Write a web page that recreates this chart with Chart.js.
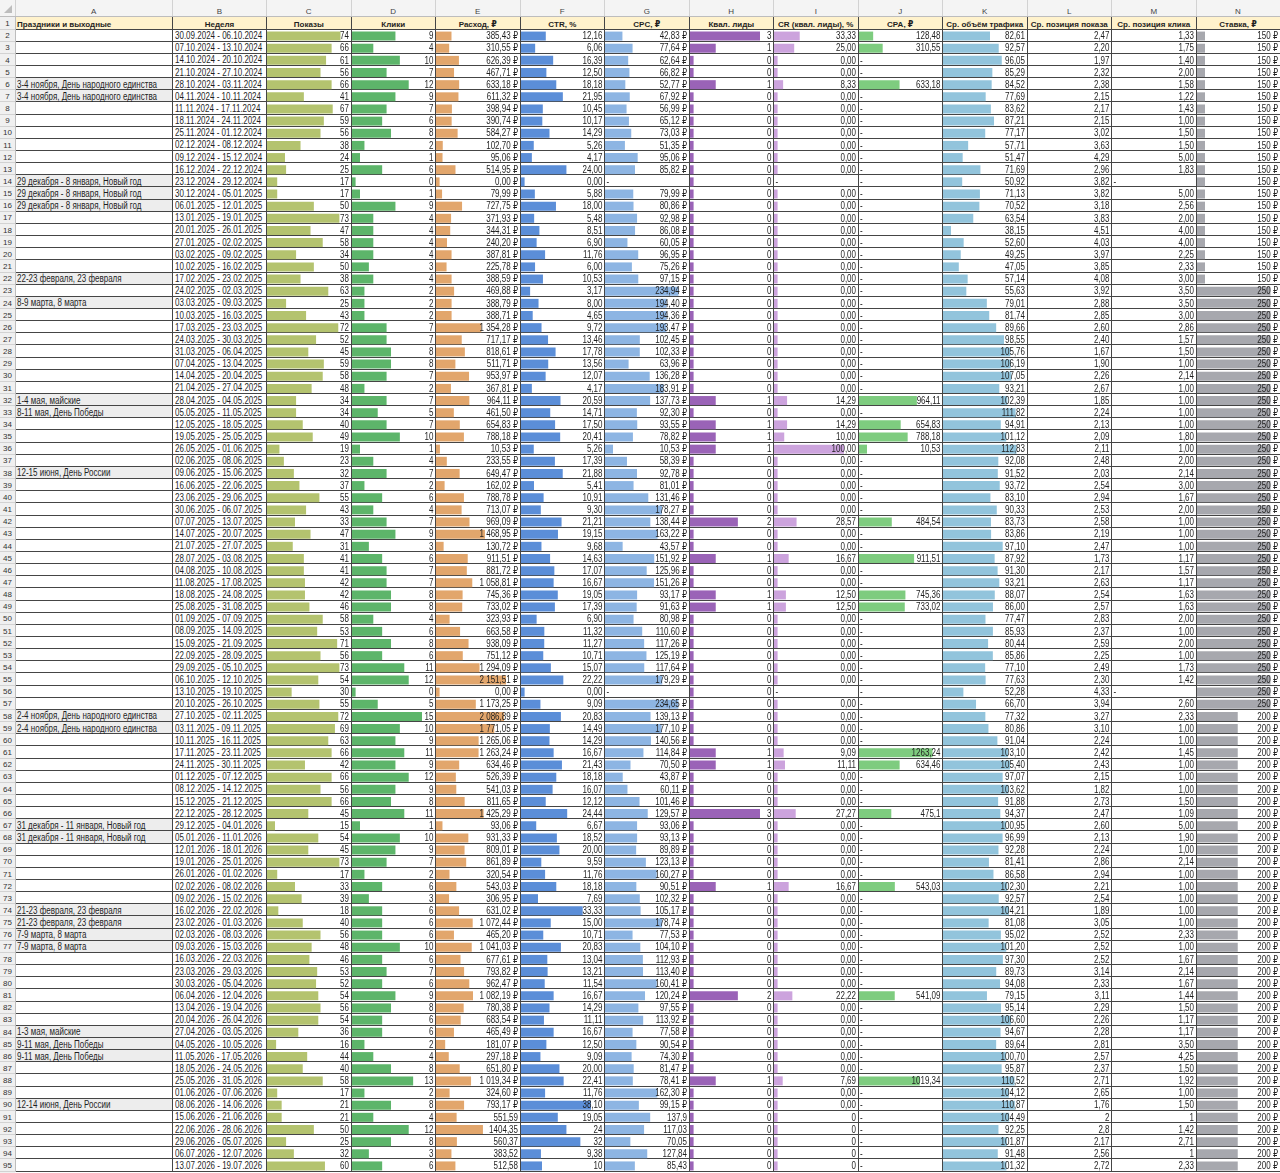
<!DOCTYPE html>
<html><head><meta charset="utf-8">
<script src="https://cdn.jsdelivr.net/npm/chart.js@4.4.1/dist/chart.umd.min.js"></script>
<style>
html,body{margin:0;padding:0;background:#fff;}
#sheet{position:relative;width:1280px;height:1173px;overflow:hidden;font-family:"Liberation Sans","DejaVu Sans",Arial,sans-serif;color:#1f1f1f;}
.r{position:absolute;}
.t{position:absolute;white-space:nowrap;}
.t span{display:inline-block;}
.cw{position:absolute;}
</style></head><body><div id="sheet"></div>
<script>
// ---------------- DATA (rows 2..95) ----------------
const colLetters = ['A','B','C','D','E','F','G','H','I','J','K','L','M','N'];
const headers = ['Праздники и выходные','Неделя','Показы','Клики','Расход, ₽','CTR, %','CPC, ₽','Квал. лиды','CR (квал. лиды), %','CPA, ₽','Ср. объём трафика','Ср. позиция показа','Ср. позиция клика','Ставка, ₽'];

const holidays = [
'','','','','3-4 ноября, День народного единства','3-4 ноября, День народного единства','','','','',
'','','29 декабря - 8 января, Новый год','29 декабря - 8 января, Новый год','29 декабря - 8 января, Новый год','','','','','',
'22-23 февраля, 23 февраля','','8-9 марта, 8 марта','','','','','','','',
'1-4 мая, майские','8-11 мая, День Победы','','','','','12-15 июня, День России','','','',
'','','','','','','','','','',
'','','','','','','2-4 ноября, День народного единства','2-4 ноября, День народного единства','','',
'','','','','','31 декабря - 11 января, Новый год','31 декабря - 11 января, Новый год','','','',
'','','21-23 февраля, 23 февраля','21-23 февраля, 23 февраля','7-9 марта, 8 марта','7-9 марта, 8 марта','','','','',
'','','1-3 мая, майские','9-11 мая, День Победы','9-11 мая, День Победы','','','','12-14 июня, День России','',
'','','',''
];

const weeks = [
'30.09.2024 - 06.10.2024','07.10.2024 - 13.10.2024','14.10.2024 - 20.10.2024','21.10.2024 - 27.10.2024','28.10.2024 - 03.11.2024',
'04.11.2024 - 10.11.2024','11.11.2024 - 17.11.2024','18.11.2024 - 24.11.2024','25.11.2024 - 01.12.2024','02.12.2024 - 08.12.2024',
'09.12.2024 - 15.12.2024','16.12.2024 - 22.12.2024','23.12.2024 - 29.12.2024','30.12.2024 - 05.01.2025','06.01.2025 - 12.01.2025',
'13.01.2025 - 19.01.2025','20.01.2025 - 26.01.2025','27.01.2025 - 02.02.2025','03.02.2025 - 09.02.2025','10.02.2025 - 16.02.2025',
'17.02.2025 - 23.02.2025','24.02.2025 - 02.03.2025','03.03.2025 - 09.03.2025','10.03.2025 - 16.03.2025','17.03.2025 - 23.03.2025',
'24.03.2025 - 30.03.2025','31.03.2025 - 06.04.2025','07.04.2025 - 13.04.2025','14.04.2025 - 20.04.2025','21.04.2025 - 27.04.2025',
'28.04.2025 - 04.05.2025','05.05.2025 - 11.05.2025','12.05.2025 - 18.05.2025','19.05.2025 - 25.05.2025','26.05.2025 - 01.06.2025',
'02.06.2025 - 08.06.2025','09.06.2025 - 15.06.2025','16.06.2025 - 22.06.2025','23.06.2025 - 29.06.2025','30.06.2025 - 06.07.2025',
'07.07.2025 - 13.07.2025','14.07.2025 - 20.07.2025','21.07.2025 - 27.07.2025','28.07.2025 - 03.08.2025','04.08.2025 - 10.08.2025',
'11.08.2025 - 17.08.2025','18.08.2025 - 24.08.2025','25.08.2025 - 31.08.2025','01.09.2025 - 07.09.2025','08.09.2025 - 14.09.2025',
'15.09.2025 - 21.09.2025','22.09.2025 - 28.09.2025','29.09.2025 - 05.10.2025','06.10.2025 - 12.10.2025','13.10.2025 - 19.10.2025',
'20.10.2025 - 26.10.2025','27.10.2025 - 02.11.2025','03.11.2025 - 09.11.2025','10.11.2025 - 16.11.2025','17.11.2025 - 23.11.2025',
'24.11.2025 - 30.11.2025','01.12.2025 - 07.12.2025','08.12.2025 - 14.12.2025','15.12.2025 - 21.12.2025','22.12.2025 - 28.12.2025',
'29.12.2025 - 04.01.2026','05.01.2026 - 11.01.2026','12.01.2026 - 18.01.2026','19.01.2026 - 25.01.2026','26.01.2026 - 01.02.2026',
'02.02.2026 - 08.02.2026','09.02.2026 - 15.02.2026','16.02.2026 - 22.02.2026','23.02.2026 - 01.03.2026','02.03.2026 - 08.03.2026',
'09.03.2026 - 15.03.2026','16.03.2026 - 22.03.2026','23.03.2026 - 29.03.2026','30.03.2026 - 05.04.2026','06.04.2026 - 12.04.2026',
'13.04.2026 - 19.04.2026','20.04.2026 - 26.04.2026','27.04.2026 - 03.05.2026','04.05.2026 - 10.05.2026','11.05.2026 - 17.05.2026',
'18.05.2026 - 24.05.2026','25.05.2026 - 31.05.2026','01.06.2026 - 07.06.2026','08.06.2026 - 14.06.2026','15.06.2026 - 21.06.2026',
'22.06.2026 - 28.06.2026','29.06.2026 - 05.07.2026','06.07.2026 - 12.07.2026','13.07.2026 - 19.07.2026'
];

const shows = [
74,66,61,56,66,41,67,59,56,38,
24,25,17,17,50,73,47,58,34,50,
38,63,25,43,72,52,45,59,58,48,
34,34,40,49,19,23,32,37,55,43,
33,47,31,41,41,42,42,46,58,53,
71,56,73,54,30,55,72,69,63,66,
42,66,56,66,45,15,54,45,73,17,
33,39,18,40,56,48,46,53,52,54,
56,54,36,16,44,40,58,17,21,21,
50,25,32,60];

const clicks = [
9,4,10,7,12,9,7,6,8,2,
1,6,0,1,9,4,4,4,4,3,
4,2,2,2,7,7,8,8,7,2,
7,5,7,10,1,4,7,2,6,4,
7,9,3,6,7,7,8,8,4,6,
8,6,11,12,0,5,15,10,9,11,
9,12,9,8,11,1,10,9,7,2,
6,3,6,6,6,10,6,7,6,9,
8,6,6,2,4,8,13,2,8,4,
12,8,3,6];

const spend = [
385.43,310.55,626.39,467.71,633.18,611.32,398.94,390.74,584.27,102.70,
95.06,514.95,0,79.99,727.75,371.93,344.31,240.20,387.81,225.78,
388.59,469.88,388.79,388.71,1354.28,717.17,818.61,511.71,953.97,367.81,
964.11,461.50,654.83,788.18,10.53,233.55,649.47,162.02,788.78,713.07,
969.09,1468.95,130.72,911.51,881.72,1058.81,745.36,733.02,323.93,663.58,
938.09,751.12,1294.09,2151.51,0,1173.25,2086.89,1771.05,1265.06,1263.24,
634.46,526.39,541.03,811.65,1425.29,93.06,931.33,809.01,861.89,320.54,
543.03,306.95,631.02,1072.44,465.20,1041.03,677.61,793.82,962.47,1082.19,
780.38,683.54,465.49,181.07,297.18,651.80,1019.34,324.60,793.17,551.59,
1404.35,560.37,383.52,512.58];

const ctr = [
12.16,6.06,16.39,12.50,18.18,21.95,10.45,10.17,14.29,5.26,
4.17,24.00,0,5.88,18.00,5.48,8.51,6.90,11.76,6.00,
10.53,3.17,8.00,4.65,9.72,13.46,17.78,13.56,12.07,4.17,
20.59,14.71,17.50,20.41,5.26,17.39,21.88,5.41,10.91,9.30,
21.21,19.15,9.68,14.63,17.07,16.67,19.05,17.39,6.90,11.32,
11.27,10.71,15.07,22.22,0,9.09,20.83,14.49,14.29,16.67,
21.43,18.18,16.07,12.12,24.44,6.67,18.52,20.00,9.59,11.76,
18.18,7.69,33.33,15.00,10.71,20.83,13.04,13.21,11.54,16.67,
14.29,11.11,16.67,12.50,9.09,20.00,22.41,11.76,38.10,19.05,
24,32,9.38,10];

const cpc = [
42.83,77.64,62.64,66.82,52.77,67.92,56.99,65.12,73.03,51.35,
95.06,85.82,null,79.99,80.86,92.98,86.08,60.05,96.95,75.26,
97.15,234.94,194.40,194.36,193.47,102.45,102.33,63.96,136.28,183.91,
137.73,92.30,93.55,78.82,10.53,58.39,92.78,81.01,131.46,178.27,
138.44,163.22,43.57,151.92,125.96,151.26,93.17,91.63,80.98,110.60,
117.26,125.19,117.64,179.29,null,234.65,139.13,177.10,140.56,114.84,
70.50,43.87,60.11,101.46,129.57,93.06,93.13,89.89,123.13,160.27,
90.51,102.32,105.17,178.74,77.53,104.10,112.93,113.40,160.41,120.24,
97.55,113.92,77.58,90.54,74.30,81.47,78.41,162.30,99.15,137.9,
117.03,70.05,127.84,85.43];

const leads = [
3,1,0,0,1,0,0,0,0,0,
0,0,0,0,0,0,0,0,0,0,
0,0,0,0,0,0,0,0,0,0,
1,0,1,1,1,0,0,0,0,0,
2,0,0,1,0,0,1,1,0,0,
0,0,0,0,0,0,0,0,0,1,
1,0,0,0,3,0,0,0,0,0,
1,0,0,0,0,0,0,0,0,2,
0,0,0,0,0,0,1,0,0,0,
0,0,0,0];

const crLeads = [
33.33,25.00,0,0,8.33,0,0,0,0,0,
0,0,null,0,0,0,0,0,0,0,
0,0,0,0,0,0,0,0,0,0,
14.29,0,14.29,10.00,100.00,0,0,0,0,0,
28.57,0,0,16.67,0,0,12.50,12.50,0,0,
0,0,0,0,null,0,0,0,0,9.09,
11.11,0,0,0,27.27,0,0,0,0,0,
16.67,0,0,0,0,0,0,0,0,22.22,
0,0,0,0,0,0,7.69,0,0,0,
0,0,0,0];

const cpa = [
128.48,310.55,null,null,633.18,null,null,null,null,null,
null,null,null,null,null,null,null,null,null,null,
null,null,null,null,null,null,null,null,null,null,
964.11,null,654.83,788.18,10.53,null,null,null,null,null,
484.54,null,null,911.51,null,null,745.36,733.02,null,null,
null,null,null,null,null,null,null,null,null,1263.24,
634.46,null,null,null,475.1,null,null,null,null,null,
543.03,null,null,null,null,null,null,null,null,541.09,
null,null,null,null,null,null,1019.34,null,null,null,
null,null,null,null];

const traffic = [
82.61,92.57,96.05,85.29,84.52,77.69,83.62,87.21,77.17,57.71,
51.47,71.69,50.92,71.13,70.52,63.54,38.15,52.60,49.25,47.05,
57.14,55.63,79.01,81.74,89.66,98.55,105.76,106.19,107.05,93.21,
102.39,111.82,94.91,101.12,112.83,92.08,91.52,93.72,83.10,90.33,
83.73,83.86,97.10,87.92,91.30,93.21,88.07,86.00,77.47,85.93,
80.44,85.86,77.10,77.63,52.28,66.70,77.32,80.86,91.04,103.10,
105.40,97.07,103.62,91.88,94.37,100.95,96.99,92.28,81.41,86.58,
102.30,92.57,104.21,81.08,95.02,101.20,97.30,89.73,94.08,79.15,
95.14,106.60,94.67,89.64,100.70,95.87,110.52,104.12,110.87,104.49,
92.25,101.87,91.48,101.32];

const posShow = [
2.47,2.20,1.97,2.32,2.38,2.15,2.17,2.15,3.02,3.63,
4.29,2.96,3.82,3.82,3.18,3.83,4.51,4.03,3.97,3.85,
4.08,3.92,2.88,2.85,2.60,2.40,1.67,1.90,2.26,2.67,
1.85,2.24,2.13,2.09,2.11,2.48,2.03,2.54,2.94,2.53,
2.58,2.19,2.47,1.73,2.17,2.63,2.54,2.57,2.83,2.37,
2.59,2.25,2.49,2.30,4.33,3.94,3.27,3.10,2.24,2.42,
2.43,2.15,1.82,2.73,2.47,2.60,2.13,2.24,2.86,2.94,
2.21,2.54,1.89,3.05,2.52,2.52,2.52,3.14,2.33,3.11,
2.29,2.26,2.28,2.81,2.57,2.37,2.71,2.65,1.76,2,
2.8,2.17,2.56,2.72];

const posClick = [
1.33,1.75,1.40,2.00,1.58,1.22,1.43,1.00,1.50,1.50,
5.00,1.83,null,5.00,2.56,2.00,4.00,4.00,2.25,2.33,
3.00,3.50,3.50,3.00,2.86,1.57,1.50,1.00,2.14,1.00,
1.00,1.00,1.00,1.80,1.00,2.00,2.14,3.00,1.67,2.00,
1.00,1.00,1.00,1.17,1.57,1.17,1.63,1.63,2.00,1.00,
2.00,1.00,1.73,1.42,null,2.60,2.33,1.00,1.00,1.45,
1.00,1.00,1.00,1.50,1.09,5.00,1.90,1.00,2.14,1.00,
1.00,1.00,1.00,1.00,2.33,1.00,1.67,2.14,1.67,1.44,
1.50,1.17,1.17,3.50,4.25,1.50,1.92,1.00,1.50,1,
1.42,2.71,1,2.33];

const bid = [
150,150,150,150,150,150,150,150,150,150,
150,150,150,150,150,150,150,150,150,150,
150,250,250,250,250,250,250,250,250,250,
250,250,250,250,250,250,250,250,250,250,
250,250,250,250,250,250,250,250,250,250,
250,250,250,250,250,250,200,200,200,200,
200,200,200,200,200,200,200,200,200,200,
200,200,200,200,200,200,200,200,200,200,
200,200,200,200,200,200,200,200,200,200,
200,200,200,200];

// ---------------- FORMATS ----------------
const GEN_FROM = 89;            // rows 91+ are in "General" cell format
const NB = '\u00a0';
const grp = s => s.replace(/\B(?=(\d{3})+(?!\d))/g, NB);
const fx2 = v => { const p = v.toFixed(2).split('.'); return grp(p[0]) + ',' + p[1]; };
const gen = v => String(v).replace('.', ',');
const fmtInt = v => String(v);
const fmtRub = (v, i) => i >= GEN_FROM ? gen(v) : fx2(v) + NB + '₽';
const fmtDec = (v, i) => i >= GEN_FROM ? gen(v) : fx2(v);
const fmtGen = v => gen(v);
const fmtBid = v => v + NB + '₽';

// ---------------- LAYOUT / STYLE ----------------
const EDGES = [0, 15, 172.5, 266.5, 351, 435.5, 520, 604.5, 689, 773.5, 858, 942.5, 1027, 1111.5, 1196, 1280];
const HEAD_H = 17, ROW1_TOP = 17, DATA_TOP = 29, RH = 12.15, NROWS = weeks.length;
const GRID = '#454545', LIGHT = '#d2d2d2';
const TXT = '#1f1f1f';
const SX = 0.8; // narrow font compression

const numCols = [
  {vals: shows,    fmt: fmtInt, color: '#B4C36F', lo: 8,   hi: 73.5},
  {vals: clicks,   fmt: fmtInt, color: '#5DB56A', lo: 3.6, hi: 70},
  {vals: spend,    fmt: fmtRub, color: '#E2A66C', lo: 3.6, hi: 70},
  {vals: ctr,      fmt: fmtDec, color: '#5B8ED8', lo: 3.6, hi: 70},
  {vals: cpc,      fmt: fmtRub, color: '#8DB5E3', lo: 8,   hi: 73.5},
  {vals: leads,    fmt: fmtInt, color: '#9A63B7', lo: 3.6, hi: 70},
  {vals: crLeads,  fmt: fmtDec, color: '#CCA3DD', lo: 3.6, hi: 70},
  {vals: cpa,      fmt: fmtGen, color: '#7ECC7F', lo: 8,   hi: 73.5},
  {vals: traffic,  fmt: fmtDec, color: '#92C4DC', lo: 8,   hi: 73.5},
  {vals: posShow,  fmt: fmtDec, color: null},
  {vals: posClick, fmt: fmtDec, color: null},
  {vals: bid,      fmt: fmtBid, color: '#A7A8AE', lo: 8,   hi: 73.5}
];

const sheet = document.getElementById('sheet');
const rowTop = r => r === 1 ? ROW1_TOP : DATA_TOP + (r - 2) * RH;
const rowBot = r => r === 1 ? DATA_TOP : DATA_TOP + (r - 1) * RH;

function rect(x, y, w, h, bg) {
  const d = document.createElement('div');
  d.className = 'r';
  d.style.cssText = `left:${x}px;top:${y}px;width:${w}px;height:${h}px;background:${bg};`;
  sheet.appendChild(d);
  return d;
}
function text(str, x, w, baseline, o) {
  const fs = o.fs || 10, sx = o.sx || 1;
  const d = document.createElement('div');
  d.className = 't';
  const align = o.align || 'left';
  d.style.cssText = `left:${x}px;${w ? 'width:' + w + 'px;' : ''}top:${baseline - fs * 0.9215}px;font-size:${fs}px;line-height:${fs * 1.15}px;text-align:${align};` +
    `font-weight:${o.bold ? 'bold' : 'normal'};color:${o.color || TXT};`;
  const s = document.createElement('span');
  s.textContent = str;
  s.style.transform = `scaleX(${sx})`;
  s.style.transformOrigin = align === 'center' ? 'center' : (align === 'right' ? 'right' : 'left');
  d.appendChild(s);
  sheet.appendChild(d);
}

// backgrounds
rect(0, 0, 1280, HEAD_H, '#F4F4F4');
rect(0, HEAD_H, 15, 1173 - HEAD_H, '#F0F0F0');
rect(15, ROW1_TOP, 1265, 12, '#FFF2CC');
holidays.forEach((h, i) => { if (h) rect(15, rowTop(i + 2), EDGES[2] - 15, RH, '#EDEDED'); });

// corner triangle
const tri = document.createElement('div');
tri.style.cssText = 'position:absolute;left:4px;top:5px;width:0;height:0;border-left:8px solid transparent;border-bottom:8px solid #BDBDBD;';
sheet.appendChild(tri);

// grid lines
rect(0, HEAD_H - 1, 1280, 1, '#BDBDBD');
for (let r = 1; r <= NROWS + 1; r++) {
  const y = Math.floor(rowBot(r));
  rect(0, y, 15, 1, LIGHT);
  rect(15, y, 1265, 1, GRID);
}
for (let j = 1; j < EDGES.length - 1; j++) {
  const x = Math.floor(EDGES[j]);
  rect(x, 0, 1, HEAD_H - 1, LIGHT);
  rect(x, HEAD_H, 1, Math.floor(rowBot(NROWS + 1)) - HEAD_H + 1, j === 1 ? '#BDBDBD' : GRID);
}

// column letters & header row
colLetters.forEach((L, j) => {
  text(L, EDGES[j + 1], EDGES[j + 2] - EDGES[j + 1], 14.5, {fs: 8, align: 'center', color: '#444'});
});
headers.forEach((h, j) => {
  if (j === 0) text(h, EDGES[1] + 2, null, 27.2, {fs: 8, bold: true});
  else text(h, EDGES[j + 1], EDGES[j + 2] - EDGES[j + 1], 27.2, {fs: 8, bold: true, align: 'center'});
});
// row numbers
for (let r = 1; r <= NROWS + 1; r++) {
  text(String(r), 0, 15, rowTop(r) + 9.6, {fs: 8, align: 'center', color: '#333'});
}
// columns A and B
for (let i = 0; i < NROWS; i++) {
  const base = rowTop(i + 2) + 10.3;
  if (holidays[i]) text(holidays[i], EDGES[1] + 2, null, base, {sx: SX});
  text(weeks[i], EDGES[2] + 2.5, null, base, {sx: SX});
}

// ---------------- CHARTS: one horizontal data-bar chart per numeric column ----------------
const CH_TOP = DATA_TOP + 1, CH_H = 1142, CH_W = 83;
numCols.forEach((c, k) => {
  const x0 = EDGES[3 + k], x1 = EDGES[4 + k];
  const left = Math.floor(x0) + 1;
  const wrap = document.createElement('div');
  wrap.className = 'cw';
  wrap.style.cssText = `left:${left}px;top:${CH_TOP}px;width:${CH_W}px;height:${CH_H}px;`;
  const cv = document.createElement('canvas');
  wrap.appendChild(cv);
  sheet.appendChild(wrap);

  const present = c.vals.filter(v => v != null);
  const vmin = Math.min(...present), vmax = Math.max(...present);
  let smin = 0, smax = 1;
  if (c.color) {
    const perPx = (vmax - vmin) / (c.hi - c.lo);
    smin = vmin - c.lo * perPx;
    smax = smin + CH_W * perPx;
  }
  const rightX = (x1 - 2) - left;
  const dashX = (x0 + 2) - left;
  const vals = c.vals, fmt = c.fmt;

  const cellText = {
    id: 'cellText' + k,
    afterDatasetsDraw(chart) {
      const ctx = chart.ctx, ys = chart.scales.y;
      ctx.save();
      ctx.font = '10px "Liberation Sans", "DejaVu Sans", Arial, sans-serif';
      ctx.fillStyle = TXT;
      ctx.textBaseline = 'alphabetic';
      vals.forEach((v, i) => {
        const yy = ys.getPixelForValue(i) + 3.2;
        ctx.save();
        if (v == null) {
          ctx.translate(dashX, yy); ctx.scale(SX, 1); ctx.textAlign = 'left'; ctx.fillText('-', 0, 0);
        } else {
          ctx.translate(rightX, yy); ctx.scale(SX, 1); ctx.textAlign = 'right'; ctx.fillText(fmt(v, i), 0, 0);
        }
        ctx.restore();
      });
      ctx.restore();
    }
  };

  new Chart(cv, {
    type: 'bar',
    data: {
      labels: weeks,
      datasets: [{
        data: c.color ? vals.map(v => v == null ? null : [smin, v]) : vals.map(() => null),
        backgroundColor: c.color || 'rgba(0,0,0,0)',
        borderWidth: 0,
        borderSkipped: false,
        categoryPercentage: 1,
        barPercentage: 9 / RH
      }]
    },
    options: {
      indexAxis: 'y',
      responsive: true,
      maintainAspectRatio: false,
      animation: false,
      events: [],
      layout: {padding: 0},
      plugins: {legend: {display: false}, tooltip: {enabled: false}},
      scales: {
        x: {type: 'linear', display: false, min: smin, max: smax},
        y: {type: 'category', display: false, offset: true}
      }
    },
    plugins: [cellText]
  });
});
</script>
</body></html>
